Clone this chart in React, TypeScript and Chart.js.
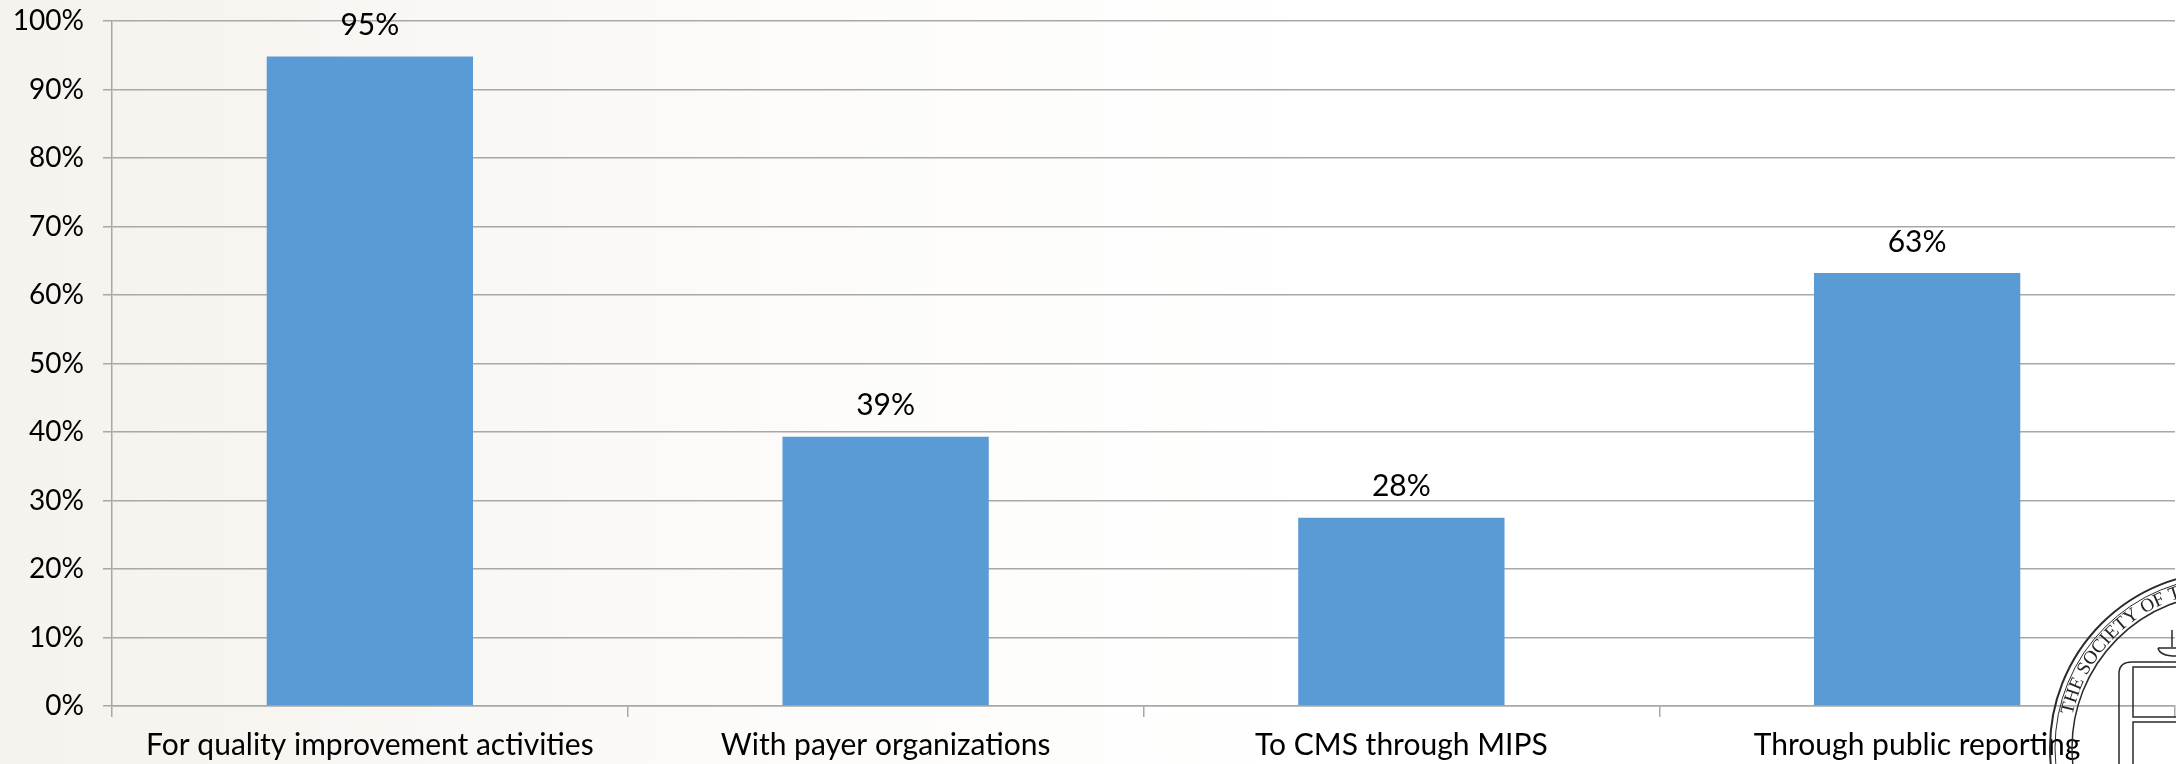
import React, { useEffect, useRef } from "react";
import { Chart, registerables } from "chart.js";

Chart.register(...registerables);

const categories = [
  "For quality improvement activities",
  "With payer organizations",
  "To CMS through MIPS",
  "Through public reporting",
];
const values = [94.8, 39.3, 27.5, 63.2];
const yTickStep = 10;
const yMax = 100;
const logoText = "THE SOCIETY OF T";

const FONT = "Lato, 'Open Sans', sans-serif";
const GRID = "#a8a8a8";

const backgroundPlugin = {
  id: "bg",
  beforeDraw(chart: any) {
    const { ctx, width, height } = chart;
    ctx.save();
    const g = ctx.createLinearGradient(0, 0, width, 0);
    g.addColorStop(0, "#f6f2ed");
    g.addColorStop(0.35, "#fcfbf9");
    g.addColorStop(0.6, "#ffffff");
    g.addColorStop(1, "#ffffff");
    ctx.fillStyle = g;
    ctx.fillRect(0, 0, width, height);
    ctx.restore();
  },
};

const dataLabelPlugin = {
  id: "dataLabels",
  afterDatasetsDraw(chart: any) {
    const { ctx } = chart;
    const meta = chart.getDatasetMeta(0);
    ctx.save();
    ctx.font = `30px ${FONT}`;
    ctx.fillStyle = "#000";
    ctx.textAlign = "center";
    ctx.textBaseline = "middle";
    meta.data.forEach((bar: any, i: number) => {
      const v = chart.data.datasets[0].data[i];
      ctx.fillText(Math.round(v) + "%", bar.x, bar.y - 31);
    });
    ctx.restore();
  },
};

const logoPlugin = {
  id: "logo",
  afterDraw(chart: any) {
    const { ctx } = chart;
    const cx = 2226;
    const cy = 748;
    ctx.save();
    ctx.strokeStyle = "#2a2a2a";
    ctx.lineWidth = 2;
    ctx.beginPath();
    ctx.arc(cx, cy, 176, 0, Math.PI * 2);
    ctx.stroke();
    ctx.lineWidth = 1;
    ctx.beginPath();
    ctx.arc(cx, cy, 171, 0, Math.PI * 2);
    ctx.stroke();
    ctx.lineWidth = 1.5;
    ctx.beginPath();
    ctx.arc(cx, cy, 154, 0, Math.PI * 2);
    ctx.stroke();
    // curved text
    ctx.font = `19px 'Liberation Serif', 'DejaVu Serif', serif`;
    ctx.fillStyle = "#222";
    ctx.textAlign = "center";
    ctx.textBaseline = "alphabetic";
    const r = 157;
    let ang = (192 * Math.PI) / 180;
    for (const ch of logoText) {
      const w = ctx.measureText(ch).width;
      const da = (w + 0.5) / 163;
      const a = ang + da / 2;
      ctx.save();
      ctx.translate(cx + r * Math.cos(a), cy + r * Math.sin(a));
      ctx.rotate(a + Math.PI / 2);
      ctx.fillText(ch, 0, 0);
      ctx.restore();
      ang += da;
    }
    // shield
    ctx.lineWidth = 1.5;
    ctx.beginPath();
    ctx.moveTo(2119, 764);
    ctx.lineTo(2119, 672);
    ctx.quadraticCurveTo(2120, 662, 2132, 662);
    ctx.lineTo(2180, 662);
    ctx.stroke();
    ctx.strokeRect(2133, 667, 50, 50);
    ctx.strokeRect(2133, 722, 50, 50);
    // torch
    ctx.beginPath();
    ctx.moveTo(2158, 648);
    ctx.quadraticCurveTo(2160, 657, 2180, 656);
    ctx.moveTo(2158, 648);
    ctx.lineTo(2180, 648);
    ctx.moveTo(2172, 647);
    ctx.lineTo(2172, 630);
    ctx.stroke();
    ctx.restore();
  },
};

export default function App() {
  const ref = useRef<HTMLCanvasElement | null>(null);
  useEffect(() => {
    document.body.style.margin = "0";
    const canvas = ref.current;
    if (!canvas) return;
    const chart = new Chart(canvas, {
      type: "bar",
      data: {
        labels: categories,
        datasets: [
          {
            data: values,
            backgroundColor: "#5b9bd5",
            borderWidth: 0,
            barPercentage: 0.4,
            categoryPercentage: 1,
          },
        ],
      },
      options: {
        responsive: false,
        animation: false,
        layout: { padding: { top: 21, right: 1, left: 0, bottom: 0 } },
        plugins: {
          legend: { display: false },
          tooltip: { enabled: false },
        },
        scales: {
          y: {
            min: 0,
            max: yMax,
            ticks: {
              stepSize: yTickStep,
              callback: (v: any) => v + "%",
              font: { size: 28, family: FONT },
              color: "#000",
              padding: 19,
            },
            grid: { color: GRID, lineWidth: 1.5, tickLength: 9 },
            border: { color: GRID, width: 1.5 },
            afterFit: (s: any) => {
              s.width = 112;
              s.paddingTop = 0;
              s.paddingBottom = 0;
            },
          },
          x: {
            offset: true,
            ticks: {
              font: { size: 30, family: FONT },
              color: "#000",
              padding: 10,
              maxRotation: 0,
              autoSkip: false,
            },
            grid: {
              offset: true,
              drawOnChartArea: false,
              color: GRID,
              lineWidth: 1.5,
              tickLength: 11,
            },
            border: { color: GRID, width: 1.5 },
            afterFit: (s: any) => {
              s.height = 58;
              s.paddingLeft = 0;
              s.paddingRight = 0;
            },
          },
        },
      },
      plugins: [backgroundPlugin, dataLabelPlugin, logoPlugin],
    });
    return () => chart.destroy();
  }, []);
  return (
    <div style={{ position: "absolute", left: 0, top: 0, width: 2176, height: 764 }}>
      <canvas ref={ref} width={2176} height={764} />
    </div>
  );
}
